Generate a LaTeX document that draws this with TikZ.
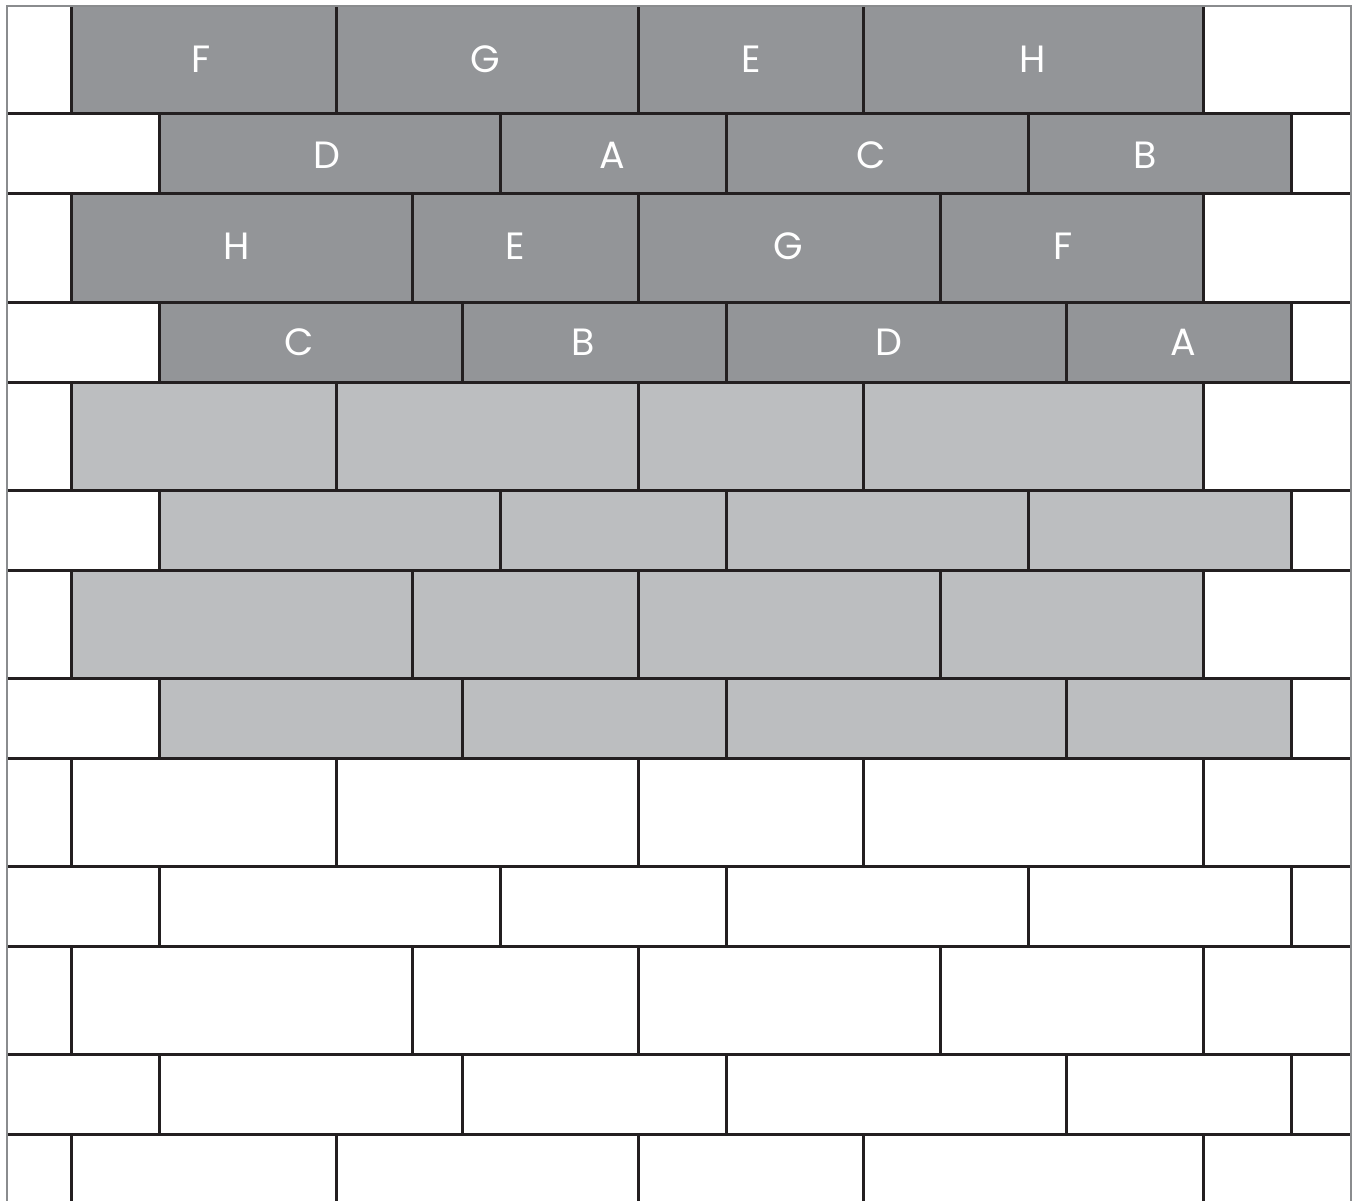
\documentclass[tikz,border=0pt]{standalone}
\usepackage{fontspec}
\setmainfont{Poppins}
\usepackage{tikz}
\usepackage{xcolor}
\definecolor{tiledark}{HTML}{939598}
\definecolor{tilelight}{HTML}{BCBEC0}
\definecolor{groutline}{HTML}{231F20}
\definecolor{framegray}{HTML}{8A8C8E}

\begin{document}
\begin{tikzpicture}[x=1pt, y=-1pt,
  tileshape/.style={draw=groutline, line width=3pt},
  tilelabel/.style={text=white, inner sep=0pt, font=\fontsize{38}{40}\selectfont}]
  \useasboundingbox (0,0) rectangle (1352,1201);
  % Wall of tiles, four row patterns repeated
  \begin{scope}
    \clip (7.7,7.7) rectangle (1350.3,1210);
    \foreach \blk/\shade in {0/tiledark, 1/tilelight, 2/white, 3/white} {
      \begin{scope}[shift={(0,\blk*376)}]
        % Row pattern A (tall)
        \foreach \xa/\xb in {71/336, 336/638, 638/863, 863/1203}
          \draw[tileshape, fill=\shade] (\xa,6) rectangle (\xb,114);
        \foreach \xa/\xb in {-100/71, 1203/1450}
          \draw[tileshape, fill=white] (\xa,6) rectangle (\xb,114);
        % Row pattern B (short)
        \foreach \xa/\xb in {159/500, 500/726, 726/1028, 1028/1291}
          \draw[tileshape, fill=\shade] (\xa,114) rectangle (\xb,194);
        \foreach \xa/\xb in {-100/159, 1291/1450}
          \draw[tileshape, fill=white] (\xa,114) rectangle (\xb,194);
        % Row pattern C (tall)
        \foreach \xa/\xb in {71/412, 412/638, 638/940, 940/1203}
          \draw[tileshape, fill=\shade] (\xa,194) rectangle (\xb,302);
        \foreach \xa/\xb in {-100/71, 1203/1450}
          \draw[tileshape, fill=white] (\xa,194) rectangle (\xb,302);
        % Row pattern D (short)
        \foreach \xa/\xb in {159/462, 462/726, 726/1066, 1066/1291}
          \draw[tileshape, fill=\shade] (\xa,302) rectangle (\xb,382);
        \foreach \xa/\xb in {-100/159, 1291/1450}
          \draw[tileshape, fill=white] (\xa,302) rectangle (\xb,382);
      \end{scope}
    }
  \end{scope}
  % Outer frame
  \draw[framegray, line width=1.5pt] (7,1201) -- (7,6) -- (1351,6) -- (1351,1201);
  % Tile letters on the dark rows
  \foreach \x/\t [count=\i] in {201/F, 485/G, 751/E, 1033/H}
    \node[tilelabel] (rowA-\i) at (\x,59) {\t};
  \foreach \x/\t [count=\i] in {327/D, 612/A, 871/C, 1145/B}
    \node[tilelabel] (rowB-\i) at (\x,155) {\t};
  \foreach \x/\t [count=\i] in {237/H, 515/E, 788/G, 1063/F}
    \node[tilelabel] (rowC-\i) at (\x,246) {\t};
  \foreach \x/\t [count=\i] in {299/C, 583/B, 889/D, 1183/A}
    \node[tilelabel] (rowD-\i) at (\x,342) {\t};
\end{tikzpicture}
\end{document}
